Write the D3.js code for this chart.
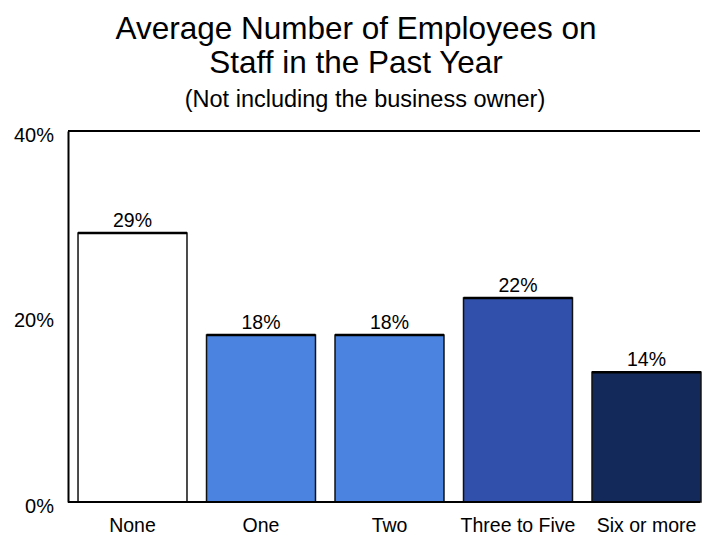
<!DOCTYPE html>
<html>
<head>
<meta charset="utf-8">
<script src="https://cdn.jsdelivr.net/npm/d3@7"></script>
<style>
  html, body { margin: 0; padding: 0; background: #fff; }
  svg { display: block; font-family: "Liberation Sans", Arial, sans-serif; }
</style>
</head>
<body>
<svg id="chart" width="702" height="535"></svg>
<script>
// Staff size categories and share of businesses in each
const categories = ["None", "One", "Two", "Three to Five", "Six or more"];
const shares = [29, 18, 18, 22, 14];
const barColors = ["#ffffff", "#4a84e0", "#4a84e0", "#3050ab", "#13295a"];
const yTicks = [0, 20, 40];
const titleLines = ["Average Number of Employees on", "Staff in the Past Year"];
const subtitle = "(Not including the business owner)";

const svg = d3.select("#chart");
const plotLeft = 68, plotRight = 700, plotTop = 131, plotBottom = 502;
const fontFamily = "Liberation Sans, Arial, sans-serif";

const y = d3.scaleLinear().domain([0, 40]).range([plotBottom, plotTop]);
const x = d3.scaleBand()
  .domain(categories)
  .range([plotLeft, 711])
  .paddingInner(0.152)
  .paddingOuter(0.078);

// Title and subtitle
const tg = svg.append("g").attr("text-anchor", "middle").attr("fill", "#000");
titleLines.forEach((t, i) => {
  tg.append("text").attr("x", 356).attr("y", 39 + i * 34)
    .attr("font-size", 31.5).text(t);
});
tg.append("text").attr("x", 365).attr("y", 107).attr("font-size", 23.5).text(subtitle);

// Bars
const data = categories.map((c, i) => ({ c, v: shares[i], col: barColors[i] }));
const bars = svg.append("g");
bars.selectAll("rect").data(data).enter().append("rect")
  .attr("x", d => x(d.c))
  .attr("y", d => y(d.v))
  .attr("width", x.bandwidth())
  .attr("height", d => y(0) - y(d.v))
  .attr("fill", d => d.col)
  .attr("stroke", "#111")
  .attr("stroke-width", 1.5);
// heavier top edge on each bar
bars.selectAll("line").data(data).enter().append("line")
  .attr("x1", d => x(d.c))
  .attr("x2", d => x(d.c) + x.bandwidth())
  .attr("y1", d => y(d.v))
  .attr("y2", d => y(d.v))
  .attr("stroke", "#000")
  .attr("stroke-width", 2.5);

// Value labels
svg.append("g").attr("text-anchor", "middle").attr("font-size", 19.5)
  .selectAll("text").data(data).enter().append("text")
  .attr("x", d => x(d.c) + x.bandwidth() / 2)
  .attr("y", d => y(d.v) - 6)
  .text(d => d.v + "%");

// Y axis
const yAxis = d3.axisLeft(y).tickValues(yTicks).tickSize(0).tickPadding(14)
  .tickFormat(d => d + "%");
const ya = svg.append("g").attr("transform", `translate(${plotLeft},0)`).call(yAxis);
ya.select(".domain").attr("stroke", "#000").attr("stroke-width", 2);
ya.selectAll("text").attr("font-size", 20).attr("fill", "#000")
  .attr("font-family", fontFamily).attr("dy", "0.5em");

// X axis
const xAxis = d3.axisBottom(x).tickSize(0).tickPadding(16);
const xa = svg.append("g").attr("transform", `translate(0,${plotBottom})`).call(xAxis);
xa.select(".domain").remove();
xa.selectAll("text").attr("font-size", 19.5).attr("fill", "#000")
  .attr("font-family", fontFamily);

// Frame lines: baseline and top edge
svg.append("line").attr("x1", plotLeft).attr("x2", plotRight).attr("y1", plotBottom).attr("y2", plotBottom)
  .attr("stroke", "#000").attr("stroke-width", 2);
svg.append("line").attr("x1", plotLeft).attr("x2", plotRight).attr("y1", plotTop).attr("y2", plotTop)
  .attr("stroke", "#000").attr("stroke-width", 2);
</script>
</body>
</html>
